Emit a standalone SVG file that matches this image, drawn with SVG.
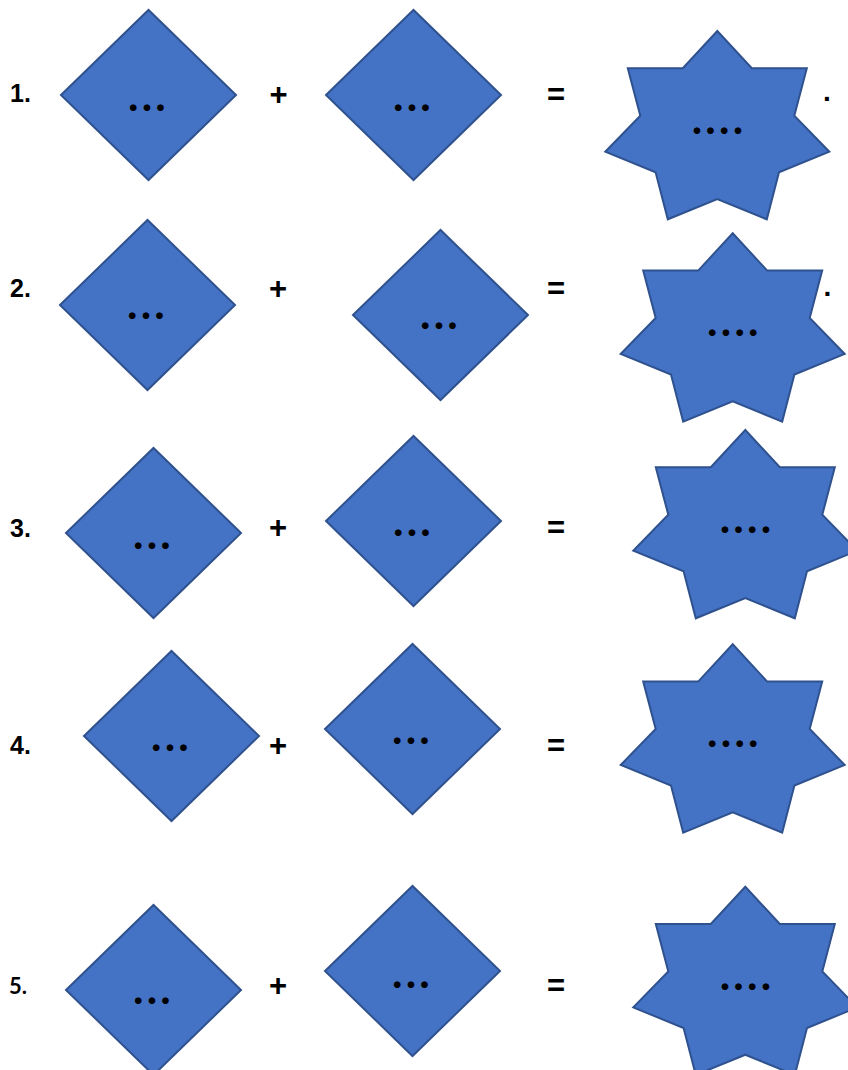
<svg xmlns="http://www.w3.org/2000/svg" width="848" height="1070" viewBox="0 0 848 1070">
<style>
.shape{fill:#4472C4;stroke:#2F528F;stroke-width:2;stroke-linejoin:miter}
.dots{font-family:Lato,"Open Sans",sans-serif;font-weight:bold;font-size:44px;letter-spacing:3.2px;text-anchor:middle;fill:#000}
.lbl{font-family:"Liberation Sans",Arial,sans-serif;font-weight:bold;font-size:25px;fill:#000}
.lbl5{font-family:Lato,"Open Sans",sans-serif;font-weight:bold;font-size:22px;fill:#000}
.op{font-family:"Liberation Sans",Arial,sans-serif;font-weight:bold;font-size:31px;text-anchor:middle;fill:#000}
.end{font-family:"Liberation Sans",Arial,sans-serif;font-weight:bold;font-size:28px;text-anchor:middle;fill:#000}
</style>
<defs>
<polygon id="dia" points="-87.5,0 0,-85 87.5,0 0,85"/>
<polygon id="star" points="0,0 34.5,37.3 89.5,37.3 77,84.7 112,120.7 61.7,141.3 49.5,188.3 0,168 -49.5,188.3 -61.7,141.3 -112,120.7 -77,84.7 -89.5,37.3 -34.5,37.3"/>
</defs>
<rect width="848" height="1070" fill="#fff"/>

<!-- Row 1 -->
<text class="lbl" x="10" y="102">1.</text>
<g id="r1a"><use href="#dia" class="shape" transform="translate(148.5,95)"/><text class="dots" x="148.5" y="111">...</text></g>
<text class="op" x="278.5" y="104.5">+</text>
<g id="r1b"><use href="#dia" class="shape" transform="translate(413.5,95)"/><text class="dots" x="413.5" y="111">...</text></g>
<text class="op" x="556" y="104.5">=</text>
<g id="r1c"><use href="#star" class="shape" transform="translate(717.3,31)"/><text class="dots" x="719" y="134">....</text></g>
<text class="end" x="827" y="101">.</text>

<!-- Row 2 -->
<text class="lbl" x="10" y="297">2.</text>
<g id="r2a"><use href="#dia" class="shape" transform="translate(147.5,305)"/><text class="dots" x="147.5" y="319">...</text></g>
<text class="op" x="278" y="299">+</text>
<g id="r2b"><use href="#dia" class="shape" transform="translate(440.5,315)"/><text class="dots" x="440.5" y="329">...</text></g>
<text class="op" x="556" y="299">=</text>
<g id="r2c"><use href="#star" class="shape" transform="translate(732.7,233.3)"/><text class="dots" x="734.4" y="336.3">....</text></g>
<text class="end" x="827.5" y="296">.</text>

<!-- Row 3 -->
<text class="lbl" x="10" y="537">3.</text>
<g id="r3a"><use href="#dia" class="shape" transform="translate(153.5,533)"/><text class="dots" x="153.5" y="548.5">...</text></g>
<text class="op" x="278" y="538">+</text>
<g id="r3b"><use href="#dia" class="shape" transform="translate(413.5,521)"/><text class="dots" x="413.5" y="536">...</text></g>
<text class="op" x="556" y="538">=</text>
<g id="r3c"><use href="#star" class="shape" transform="translate(745.3,430)"/><text class="dots" x="747" y="533">....</text></g>

<!-- Row 4 -->
<text class="lbl" x="10" y="754">4.</text>
<g id="r4a"><use href="#dia" class="shape" transform="translate(171.5,736)"/><text class="dots" x="171.5" y="751">...</text></g>
<text class="op" x="278" y="755.5">+</text>
<g id="r4b"><use href="#dia" class="shape" transform="translate(412.5,729)"/><text class="dots" x="412.5" y="744">...</text></g>
<text class="op" x="556" y="755.5">=</text>
<g id="r4c"><use href="#star" class="shape" transform="translate(732.7,644.3)"/><text class="dots" x="734.4" y="747.3">....</text></g>

<!-- Row 5 -->
<text class="lbl5" x="9" y="994">5.</text>
<g id="r5a"><use href="#dia" class="shape" transform="translate(153.5,990)"/><text class="dots" x="153.5" y="1004">...</text></g>
<text class="op" x="278" y="996">+</text>
<g id="r5b"><use href="#dia" class="shape" transform="translate(412.5,971)"/><text class="dots" x="412.5" y="988">...</text></g>
<text class="op" x="556" y="996">=</text>
<g id="r5c"><use href="#star" class="shape" transform="translate(745.3,886.7)"/><text class="dots" x="747" y="989.7">....</text></g>

<g id="connectors"/>
</svg>
